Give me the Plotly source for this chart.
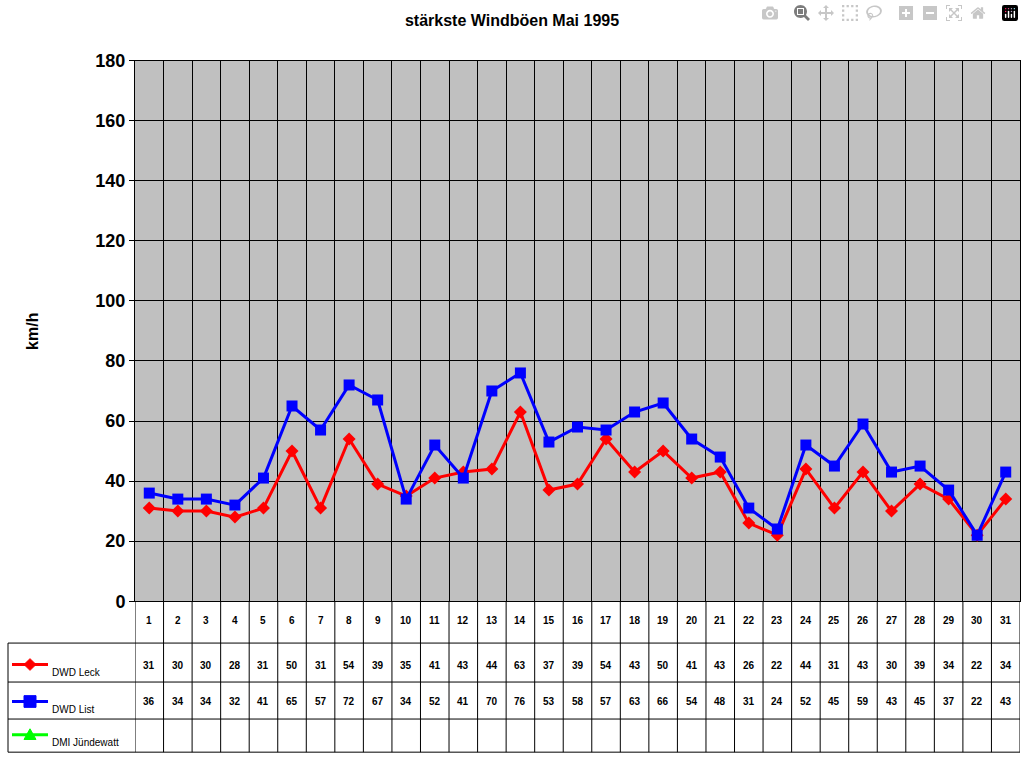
import plotly.graph_objects as go

days = list(range(1, 32))
leck = [31, 30, 30, 28, 31, 50, 31, 54, 39, 35, 41, 43, 44, 63, 37, 39, 54, 43, 50, 41,
        43, 26, 22, 44, 31, 43, 30, 39, 34, 22, 34]
liste = [36, 34, 34, 32, 41, 65, 57, 72, 67, 34, 52, 41, 70, 76, 53, 58, 57, 63, 66, 54,
         48, 31, 24, 52, 45, 59, 43, 45, 37, 22, 43]
series = [("DWD Leck", leck, "#FF0000", "diamond"),
          ("DWD List", liste, "#0000FF", "square"),
          ("DMI Jündewatt", None, "#00FF00", "triangle-up")]

W, H = 1024, 768
def px(x): return x / W
def py(y): return 1 - y / H

FONT = "Liberation Sans, Arial, sans-serif"
fig = go.Figure()
for name, vals, col, sym in series:
    if vals is None:
        continue
    fig.add_trace(go.Scatter(x=days, y=vals, mode="lines+markers", name=name,
                             line=dict(color=col, width=3),
                             marker=dict(symbol=sym, size=11 if sym == "square" else 10, color=col)))

shapes = []
# legend samples in table (paper-space decorations)
row_y = [680, 718, 752]
for (name, vals, col, sym), ry in zip(series, row_y):
    cy = ry - 8
    shapes.append(dict(type="line", xref="paper", yref="paper", x0=px(12), x1=px(48),
                       y0=py(cy), y1=py(cy), line=dict(color=col, width=3)))
    if sym == "square":
        path = f"M {px(24)} {py(cy-6)} L {px(36)} {py(cy-6)} L {px(36)} {py(cy+6)} L {px(24)} {py(cy+6)} Z"
    elif sym == "diamond":
        path = f"M {px(30)} {py(cy-6)} L {px(36)} {py(cy)} L {px(30)} {py(cy+6)} L {px(24)} {py(cy)} Z"
    else:
        path = f"M {px(30)} {py(cy-6)} L {px(36)} {py(cy+5)} L {px(24)} {py(cy+5)} Z"
    shapes.append(dict(type="path", xref="paper", yref="paper", path=path,
                       fillcolor=col, line=dict(color=col, width=1)))
    fig.add_annotation(x=px(50), y=py(ry), xref="paper", yref="paper", text=name,
                       showarrow=False, xanchor="left", yanchor="middle",
                       font=dict(family=FONT, size=10, color="black"))

# table text
for i, d in enumerate(days):
    fig.add_annotation(x=d, y=py(635), xref="x", yref="paper", text=f"<b>{d}</b>",
                       showarrow=False, font=dict(family=FONT, size=10, color="black"))
    fig.add_annotation(x=d, y=py(681), xref="x", yref="paper", text=f"<b>{leck[i]}</b>",
                       showarrow=False, font=dict(family=FONT, size=10, color="black"))
    fig.add_annotation(x=d, y=py(718), xref="x", yref="paper", text=f"<b>{liste[i]}</b>",
                       showarrow=False, font=dict(family=FONT, size=10, color="black"))

# table lines
for b in range(0, 32):
    shapes.append(dict(type="line", xref="x", yref="paper", x0=b + 0.5, x1=b + 0.5,
                       y0=py(762), y1=py(607), line=dict(color="black", width=1)))
for yy in [650, 690, 728, 762]:
    shapes.append(dict(type="line", xref="paper", yref="paper", x0=px(8), x1=px(1020),
                       y0=py(yy), y1=py(yy), line=dict(color="black", width=1)))
shapes.append(dict(type="line", xref="paper", yref="paper", x0=px(8), x1=px(8),
                   y0=py(762), y1=py(650), line=dict(color="black", width=1)))

fig.update_layout(
    width=W, height=H, margin=dict(l=0, r=0, t=0, b=0),
    paper_bgcolor="white", plot_bgcolor="#C0C0C0", showlegend=False,
    shapes=shapes,
    title=dict(text="<b>stärkste Windböen Mai 1995</b>", x=0.5, y=py(20), xanchor="center",
               yanchor="middle", font=dict(family=FONT, size=16, color="black")),
    xaxis=dict(domain=[px(135), px(1020)], range=[0.5, 31.5], tickvals=[b + 0.5 for b in range(32)],
               showticklabels=False, showgrid=True, gridcolor="black", gridwidth=1,
               zeroline=False, showline=True, linecolor="black", mirror=True, ticks=""),
    yaxis=dict(domain=[py(607), py(52)], range=[0, 180], dtick=20, showgrid=True,
               gridcolor="black", zeroline=False, showline=True, linecolor="black", mirror=True,
               ticks="outside", ticklen=5, tickcolor="black",
               tickfont=dict(family=FONT, size=18, color="black"),
               tickprefix="<b>", ticksuffix="</b>"),
)
fig.add_annotation(x=px(22), y=py(330), xref="paper", yref="paper", text="<b>km/h</b>",
                   textangle=-90, showarrow=False, font=dict(family=FONT, size=16, color="black"))

fig.write_html("out.html", post_script="document.body.style.margin='0';document.body.style.overflow='hidden';")
